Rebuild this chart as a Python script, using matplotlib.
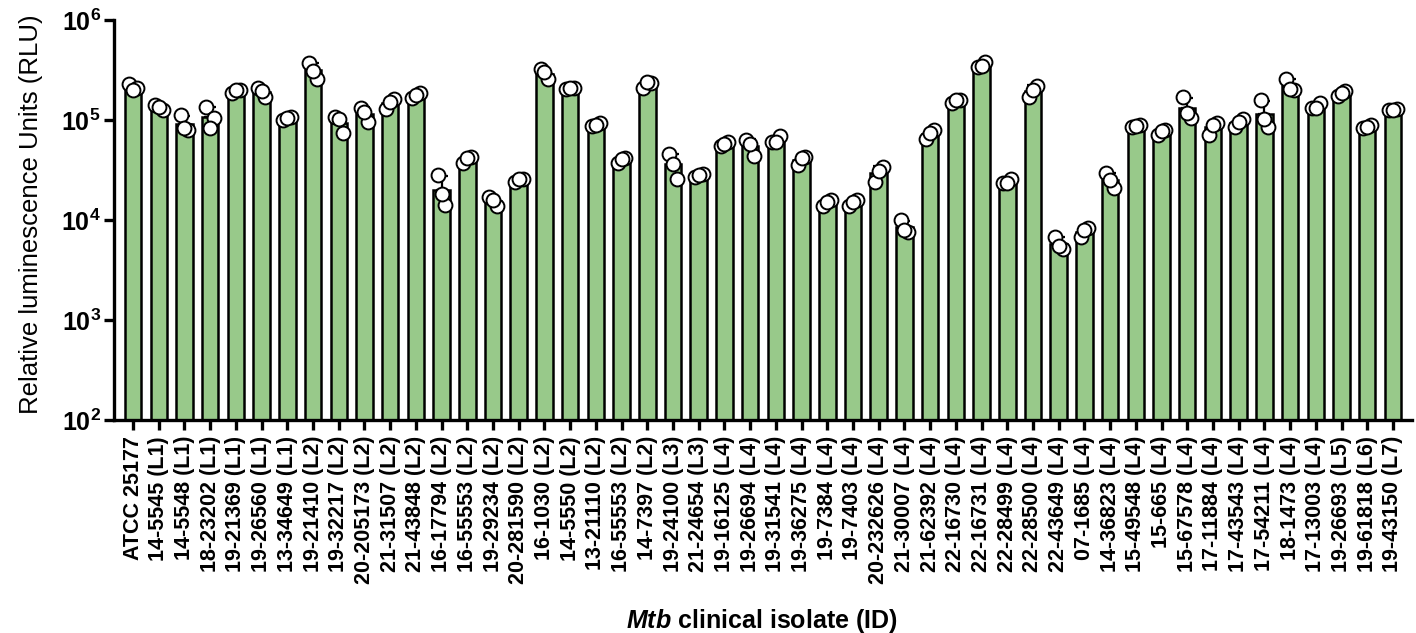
import numpy as np
import matplotlib
matplotlib.use("Agg")
import matplotlib.pyplot as plt

plt.rcParams['font.family'] = ['Liberation Sans', 'DejaVu Sans']
plt.rcParams['mathtext.fontset'] = 'custom'
plt.rcParams['mathtext.rm'] = 'Liberation Sans:bold'
plt.rcParams['mathtext.bf'] = 'Liberation Sans:bold'
plt.rcParams['mathtext.bfit'] = 'Liberation Sans:bold:italic'
plt.rcParams['mathtext.it'] = 'Liberation Sans:bold:italic'

isolates = ["ATCC 25177", "14-5545", "14-5548", "18-23202", "19-21369", "19-26560", "13-34649",
            "19-21410", "19-32217", "20-205173", "21-31507", "21-43848", "16-17794", "16-55553",
            "19-29234", "20-281590", "16-1030", "14-5550", "13-21110", "16-55553", "14-7397",
            "19-24100", "21-24654", "19-16125", "19-26694", "19-31541", "19-36275", "19-7384",
            "19-7403", "20-232626", "21-30007", "21-62392", "22-16730", "22-16731", "22-28499",
            "22-28500", "22-43649", "07-1685", "14-36823", "15-49548", "15-665", "15-67578",
            "17-11884", "17-43543", "17-54211", "18-1473", "17-13003", "19-26693", "19-61818",
            "19-43150"]
lineages = ["", "L1", "L1", "L1", "L1", "L1", "L1",
            "L2", "L2", "L2", "L2", "L2", "L2", "L2",
            "L2", "L2", "L2", "L2", "L2", "L2", "L2",
            "L3", "L3", "L4", "L4", "L4", "L4", "L4",
            "L4", "L4", "L4", "L4", "L4", "L4", "L4",
            "L4", "L4", "L4", "L4", "L4", "L4", "L4",
            "L4", "L4", "L4", "L4", "L4", "L5", "L6",
            "L7"]

rep1 = [2.30e5, 1.40e5, 1.12e5, 1.35e5, 1.86e5, 2.10e5, 1.00e5, 3.70e5, 1.07e5, 1.32e5,
        1.28e5, 1.65e5, 2.80e4, 3.70e4, 1.70e4, 2.40e4, 3.20e5, 2.05e5, 8.70e4, 3.70e4,
        2.10e5, 4.57e4, 2.70e4, 5.50e4, 6.30e4, 6.00e4, 3.55e4, 1.38e4, 1.38e4, 2.40e4,
        1.00e4, 6.40e4, 1.48e5, 3.40e5, 2.34e4, 1.70e5, 6.80e3, 6.80e3, 2.95e4, 8.50e4,
        7.10e4, 1.70e5, 7.10e4, 8.50e4, 1.58e5, 2.60e5, 1.32e5, 1.74e5, 8.30e4, 1.27e5]
rep2 = [2.10e5, 1.26e5, 7.90e4, 1.05e5, 2.00e5, 1.70e5, 1.07e5, 2.60e5, 7.40e4, 9.50e4,
        1.62e5, 1.87e5, 1.41e4, 4.30e4, 1.38e4, 2.60e4, 2.55e5, 2.10e5, 9.30e4, 4.20e4,
        2.35e5, 2.60e4, 2.90e4, 6.00e4, 4.40e4, 6.90e4, 4.30e4, 1.58e4, 1.58e4, 3.40e4,
        7.60e3, 7.90e4, 1.60e5, 3.80e5, 2.60e4, 2.20e5, 5.10e3, 8.30e3, 2.10e4, 8.90e4,
        7.90e4, 1.05e5, 9.30e4, 1.02e5, 8.50e4, 2.00e5, 1.48e5, 1.95e5, 8.90e4, 1.28e5]
rep3 = [2.00e5, 1.35e5, 8.30e4, 8.30e4, 2.00e5, 1.95e5, 1.05e5, 3.10e5, 1.02e5, 1.20e5,
        1.50e5, 1.78e5, 1.82e4, 4.20e4, 1.58e4, 2.60e4, 3.00e5, 2.10e5, 8.90e4, 4.10e4,
        2.40e5, 3.60e4, 2.80e4, 5.80e4, 5.75e4, 6.00e4, 4.20e4, 1.50e4, 1.50e4, 3.10e4,
        7.90e3, 7.40e4, 1.58e5, 3.50e5, 2.34e4, 2.00e5, 5.50e3, 7.90e3, 2.50e4, 8.70e4,
        7.70e4, 1.17e5, 8.90e4, 9.50e4, 1.02e5, 2.02e5, 1.32e5, 1.85e5, 8.60e4, 1.25e5]

ytick_vals = [1e2, 1e3, 1e4, 1e5, 1e6]
ytick_labels = [r'$\mathbf{10^{2}}$', r'$\mathbf{10^{3}}$', r'$\mathbf{10^{4}}$',
                r'$\mathbf{10^{5}}$', r'$\mathbf{10^{6}}$']

labels = [f"{n} ({l})" if l else n for n, l in zip(isolates, lineages)]
reps = np.array([rep1, rep2, rep3])
means = reps.mean(axis=0)
sds = reps.std(axis=0, ddof=1)
x = np.arange(len(isolates))

W, H = 1416, 633
fig = plt.figure(figsize=(W / 100, H / 100), dpi=100)
ax = fig.add_axes([114 / W, (H - 420) / H, (1412 - 114) / W, 400 / H])

ax.bar(x, means, width=0.64, color='#98C98A', edgecolor='black', linewidth=1.8, zorder=2)
ax.errorbar(x, means, yerr=[np.zeros_like(sds), sds], fmt='none', ecolor='black',
            elinewidth=1.6, capsize=4, capthick=1.6, zorder=3)
offsets = [-0.15, 0.15, 0.0]
for r, off in zip(reps, offsets):
    ax.plot(x + off, r, 'o', ms=10, mfc='white', mec='black', mew=1.4, zorder=4, clip_on=False)

ax.set_yscale('log')
ax.set_ylim(1e2, 1e6)
ax.set_xlim(-0.74, len(x) - 1 + 0.74)
ax.set_yticks(ytick_vals)
ax.set_yticklabels(ytick_labels, fontsize=18)
ax.yaxis.set_minor_locator(matplotlib.ticker.NullLocator())
ax.set_xticks(x)
ax.set_xticklabels(labels, rotation=90, fontsize=15.5, fontweight='bold', ha='center', va='top')

for s in ['top', 'right']:
    ax.spines[s].set_visible(False)
for s in ['left', 'bottom']:
    ax.spines[s].set_linewidth(2.4)
ax.tick_params(axis='both', which='major', length=7.5, width=2.4, direction='out')
ax.tick_params(axis='y', pad=2)
ax.tick_params(axis='x', pad=4)

fig.text(31 / W, 1 - 214 / H, 'Relative luminescence Units (RLU)', rotation=90,
         ha='center', va='center', fontsize=18.5)
fig.text(762 / W, 1 - 621 / H, r'$\mathbfit{Mtb}$ clinical isolate (ID)', ha='center', va='center',
         fontsize=18, fontweight='bold')

fig.savefig('out.png', dpi=100)
